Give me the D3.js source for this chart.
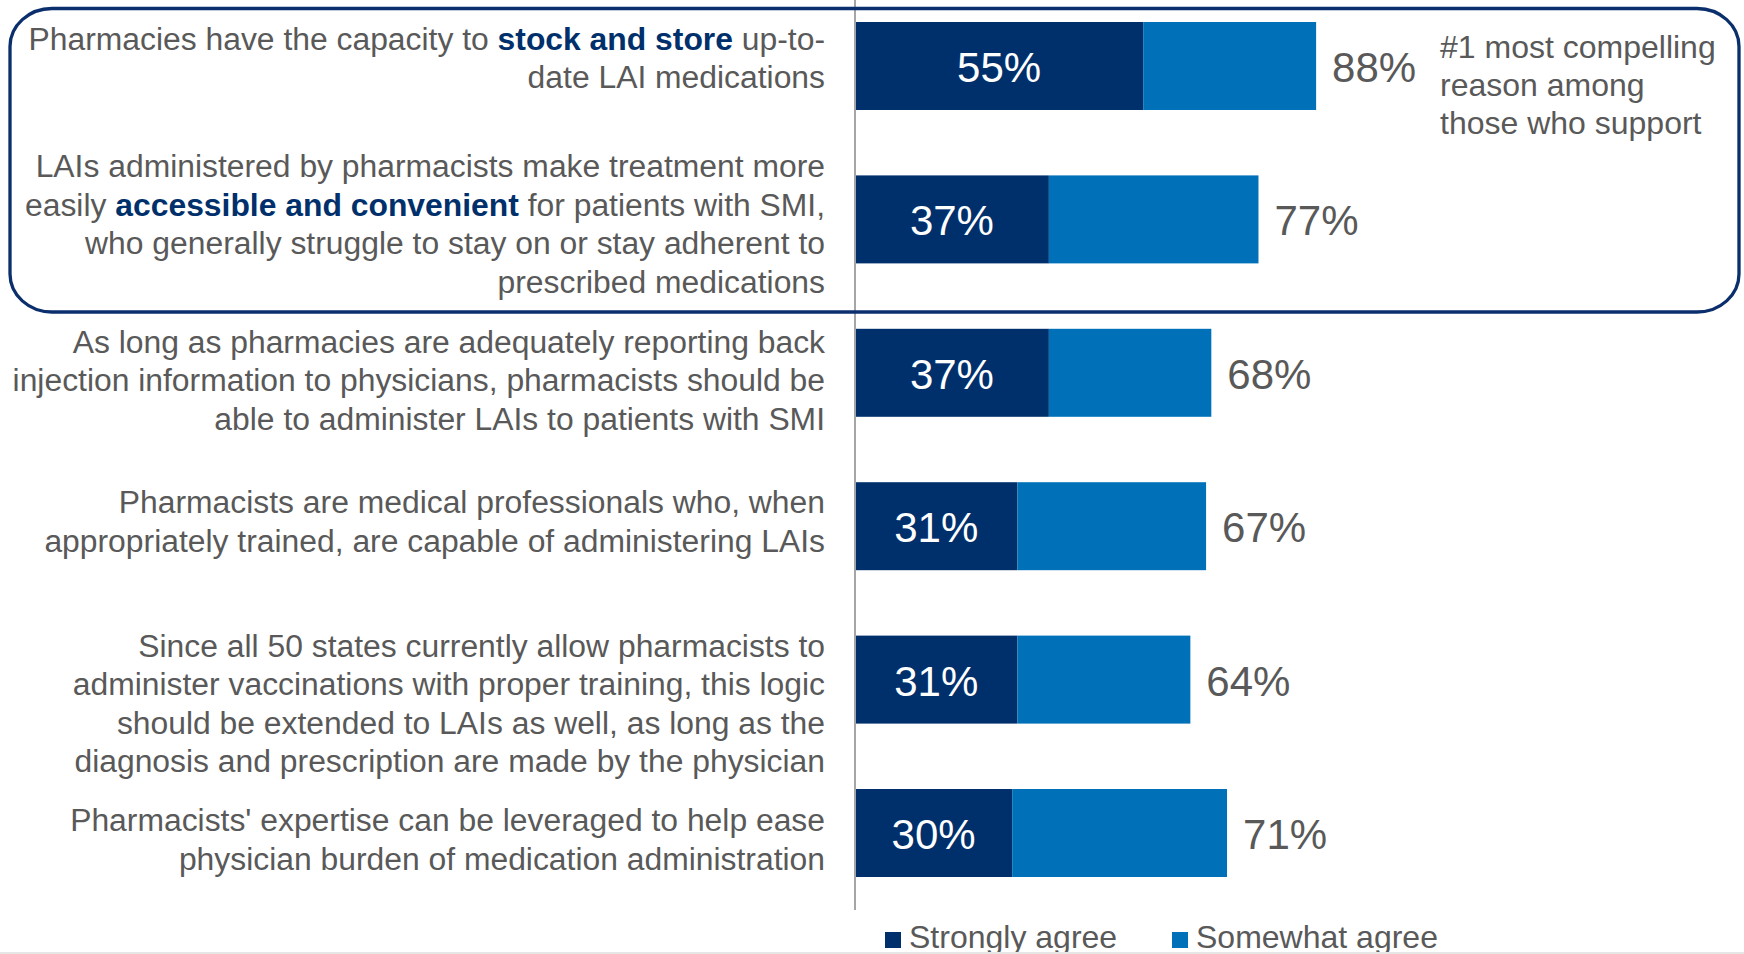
<!DOCTYPE html>
<html>
<head>
<meta charset="utf-8">
<script src="https://cdn.jsdelivr.net/npm/d3@7"></script>
<style>
  html, body { margin: 0; padding: 0; background: #ffffff; }
  svg { display: block; }
  text { font-family: "Liberation Sans", Arial, Helvetica, sans-serif; }
</style>
</head>
<body>
<svg id="chart" width="1744" height="954"></svg>
<script>
// Statements (lines split with "|", emphasised words wrapped in *...*)
const statements = [
  "Pharmacies have the capacity to *stock and store* up-to-|date LAI medications",
  "LAIs administered by pharmacists make treatment more|easily *accessible and convenient* for patients with SMI,|who generally struggle to stay on or stay adherent to|prescribed medications",
  "As long as pharmacies are adequately reporting back|injection information to physicians, pharmacists should be|able to administer LAIs to patients with SMI",
  "Pharmacists are medical professionals who, when|appropriately trained, are capable of administering LAIs",
  "Since all 50 states currently allow pharmacists to|administer vaccinations with proper training, this logic|should be extended to LAIs as well, as long as the|diagnosis and prescription are made by the physician",
  "Pharmacists' expertise can be leveraged to help ease|physician burden of medication administration"
];

// Share agreeing (%)
const stronglyAgree = [55, 37, 37, 31, 31, 30];
const totalAgree    = [88, 77, 68, 67, 64, 71];

const seriesNames = ["Strongly agree", "Somewhat agree"];
const calloutLines = ["#1 most compelling", "reason among", "those who support"];

// Layout
const W = 1744, H = 954;
const axisX = 855, pxPerPoint = 5.24;
const labelRight = 825;
const lineGap = 38.5;
const labelFont = 31.85;
const labelFirstBaseline = [-16, -42, -20, -13, -23, -2]; // from bar centre
const colors = { strong: "#00306b", somewhat: "#0071b9", text: "#595959", box: "#0a2f6c", axis: "#a6a6a6" };

const svg = d3.select("#chart");

const x = d3.scaleLinear().domain([0, 100]).range([axisX, axisX + 100 * pxPerPoint]);
const y = d3.scaleBand()
  .domain(d3.range(statements.length))
  .range([22, 877])
  .paddingInner(0.4264)
  .paddingOuter(0);

const rows = statements.map((s, i) => ({
  i, text: s, strong: stronglyAgree[i], total: totalAgree[i]
}));

// Vertical baseline
svg.append("line")
  .attr("x1", axisX).attr("x2", axisX)
  .attr("y1", 0).attr("y2", 910)
  .attr("stroke", colors.axis).attr("stroke-width", 2);

// Stacked bars
const g = svg.append("g");
g.selectAll("rect.strong").data(rows).join("rect")
  .attr("class", "strong")
  .attr("x", x(0) + 1)
  .attr("y", d => y(d.i))
  .attr("width", d => x(d.strong) - x(0) - 1)
  .attr("height", y.bandwidth())
  .attr("fill", colors.strong);

g.selectAll("rect.somewhat").data(rows).join("rect")
  .attr("class", "somewhat")
  .attr("x", d => x(d.strong))
  .attr("y", d => y(d.i))
  .attr("width", d => x(d.total) - x(d.strong))
  .attr("height", y.bandwidth())
  .attr("fill", colors.somewhat);

// Value labels
const mid = i => y(i) + y.bandwidth() / 2;
g.selectAll("text.inner").data(rows).join("text")
  .attr("class", "inner")
  .attr("x", d => (x(0) + x(d.strong)) / 2)
  .attr("y", d => mid(d.i) + 16)
  .attr("text-anchor", "middle")
  .attr("font-size", 42)
  .attr("fill", "#ffffff")
  .text(d => d.strong + "%");

g.selectAll("text.total").data(rows).join("text")
  .attr("class", "total")
  .attr("x", d => x(d.total) + 16)
  .attr("y", d => mid(d.i) + 16)
  .attr("font-size", 42)
  .attr("fill", colors.text)
  .text(d => d.total + "%");

// Statement labels with emphasised phrases
const labels = svg.append("g");
rows.forEach(d => {
  const lines = d.text.split("|");
  lines.forEach((line, li) => {
    const t = labels.append("text")
      .attr("x", labelRight)
      .attr("y", mid(d.i) + labelFirstBaseline[d.i] + li * lineGap)
      .attr("text-anchor", "end")
      .attr("font-size", labelFont)
      .attr("fill", colors.text);
    line.split("*").forEach((seg, si) => {
      if (!seg) return;
      const ts = t.append("tspan").text(seg);
      if (si % 2 === 1) ts.attr("font-weight", "bold").attr("fill", colors.strong);
    });
  });
});

// Highlight box around the top two statements
svg.append("rect")
  .attr("x", 10).attr("y", 8.5)
  .attr("width", 1729).attr("height", 303.5)
  .attr("rx", 42).attr("ry", 38)
  .attr("fill", "none")
  .attr("stroke", colors.box)
  .attr("stroke-width", 3.3);

// Callout
svg.append("g").selectAll("text").data(calloutLines).join("text")
  .attr("x", 1440)
  .attr("y", (d, i) => 58 + i * 38)
  .attr("font-size", 32)
  .attr("fill", colors.text)
  .text(d => d);

// Legend
const legend = svg.append("g");
const legendX = [885, 1172];
const legendColors = [colors.strong, colors.somewhat];
seriesNames.forEach((name, i) => {
  legend.append("rect")
    .attr("x", legendX[i]).attr("y", 932)
    .attr("width", 16).attr("height", 16)
    .attr("fill", legendColors[i]);
  legend.append("text")
    .attr("x", legendX[i] + 24).attr("y", 948)
    .attr("font-size", 32)
    .attr("fill", colors.text)
    .text(name);
});

// Bottom edge strip
svg.append("rect")
  .attr("x", 0).attr("y", 952)
  .attr("width", W).attr("height", 2)
  .attr("fill", "#e6e6e6");
</script>
</body>
</html>
